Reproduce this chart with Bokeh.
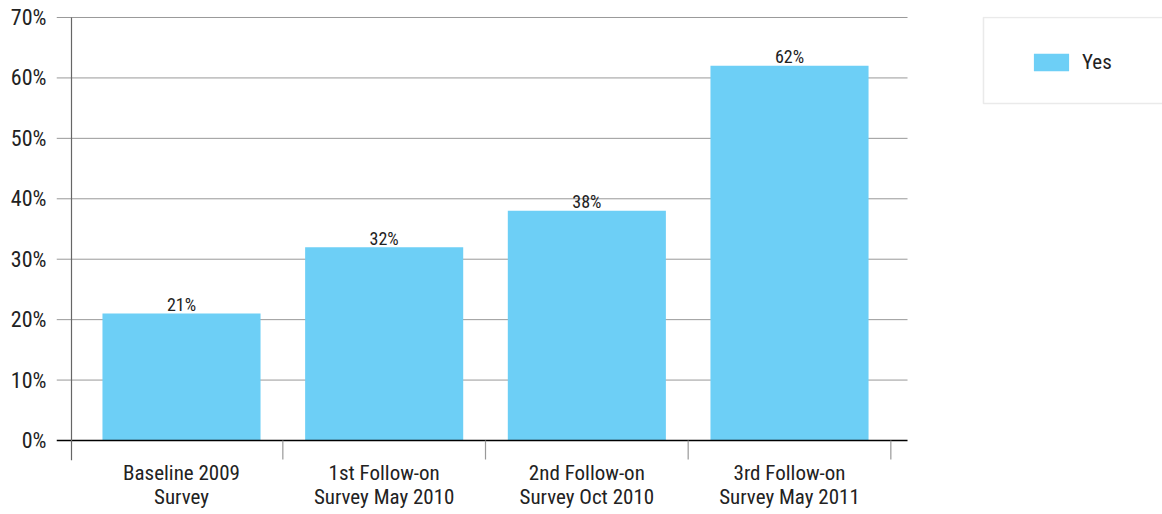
from bokeh.plotting import figure
from bokeh.models import Range1d, FixedTicker, Legend, LegendItem, BoxAnnotation
from bokeh.embed import file_html
from bokeh.resources import INLINE
from bokeh.core.properties import value

categories = ["Baseline 2009\nSurvey", "1st Follow-on\nSurvey May 2010",
              "2nd Follow-on\nSurvey Oct 2010", "3rd Follow-on\nSurvey May 2011"]
yes_values = [21, 32, 38, 62]
y_ticks = [0, 10, 20, 30, 40, 50, 60, 70]
y_tick_labels = ["0%", "10%", "20%", "30%", "40%", "50%", "60%", "70%"]
series_name = "Yes"

FONT = "Roboto Condensed, Archivo Narrow"
TEXT = "#222222"
BAR = "#6dcff6"

xs = list(range(len(categories)))
X0, X1 = -0.6168, 4.8404
GRID_END = 3.5823
Y0, Y1 = -3.31, 70.165

p = figure(width=1162, height=514, output_backend="svg", toolbar_location=None,
           x_range=Range1d(X0, X1), y_range=Range1d(Y0, Y1),
           min_border_left=56, min_border_right=0, min_border_top=16, min_border_bottom=54)
p.outline_line_color = None
p.background_fill_color = "white"
p.xgrid.grid_line_color = None
p.ygrid.grid_line_color = None

grid_ticks = y_ticks[1:]
p.segment(x0=[X0] * len(grid_ticks), x1=[GRID_END] * len(grid_ticks),
          y0=grid_ticks, y1=grid_ticks, line_color="#999999", line_width=1)

bars = p.vbar(x=xs, top=yes_values, width=0.78, fill_color=BAR, line_color=None)

p.text(x=xs, y=yes_values, text=[f"{v}%" for v in yes_values],
       text_align="center", text_baseline="alphabetic", y_offset=-9,
       text_font=value(FONT), text_font_size="18px", text_color=TEXT)

p.segment(x0=[X0], x1=[GRID_END], y0=[0], y1=[0], line_color="black", line_width=1.5)
p.segment(x0=[-0.5428], x1=[-0.5428], y0=[Y0], y1=[y_ticks[-1]],
          line_color="#666666", line_width=1.2)
seps = [i + 0.5 for i in xs]
p.segment(x0=seps, x1=seps, y0=[0] * len(seps), y1=[-3.15] * len(seps),
          line_color="#999999", line_width=1.2)

yax = p.yaxis[0]
yax.ticker = FixedTicker(ticks=y_ticks)
yax.major_label_overrides = {t: l for t, l in zip(y_ticks, y_tick_labels)}
yax.axis_line_color = None
yax.major_tick_line_color = None
yax.minor_tick_line_color = None
yax.major_label_standoff = 4
yax.major_label_text_font = FONT
yax.major_label_text_font_size = "22px"
yax.major_label_text_color = TEXT

xax = p.xaxis[0]
xax.ticker = FixedTicker(ticks=xs)
xax.major_label_overrides = {i: c for i, c in zip(xs, categories)}
xax.axis_line_color = None
xax.major_tick_line_color = None
xax.minor_tick_line_color = None
xax.major_tick_out = 0
xax.major_label_standoff = 0
xax.major_label_text_font = FONT
xax.major_label_text_font_size = "21px"
xax.major_label_text_color = TEXT
xax.major_label_text_line_height = 1.0

# legend frame
p.add_layout(BoxAnnotation(left=3.957, right=X1 + 0.2, top=70, bottom=55.77,
                           fill_color="white", fill_alpha=1,
                           line_color="#bbbbbb", line_width=1.5))
legend = Legend(items=[LegendItem(label=series_name, renderers=[bars])],
                location=(973, 386), padding=10, margin=0,
                glyph_width=44, glyph_height=22, label_standoff=9,
                label_text_font=FONT, label_text_font_size="21px", label_text_color=TEXT,
                border_line_color=None, background_fill_alpha=0)
p.add_layout(legend, "center")

open("out.html", "w").write(file_html(p, INLINE))
